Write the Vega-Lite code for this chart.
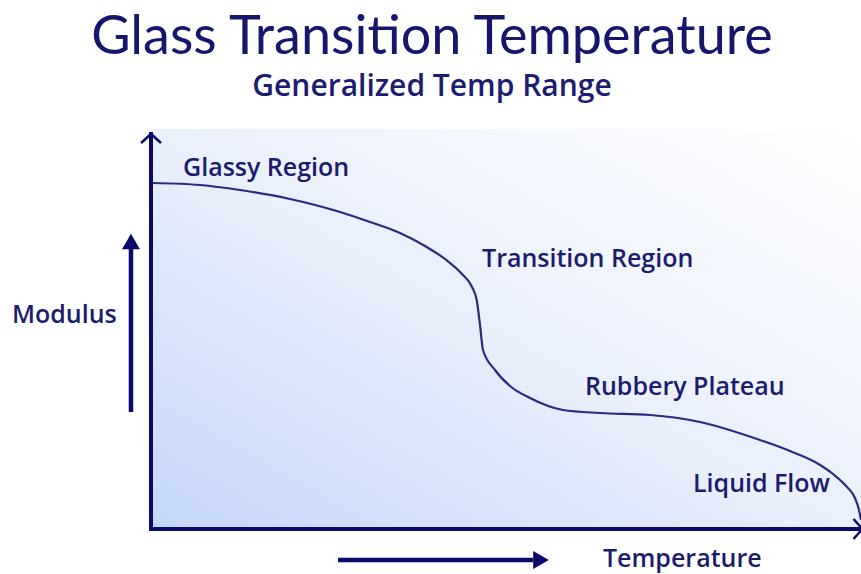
{
  "$schema": "https://vega.github.io/schema/vega-lite/v6.json",
  "width": 710,
  "height": 400,
  "autosize": "none",
  "padding": {"left": 151, "top": 129, "right": 0, "bottom": 45},
  "background": "#ffffff",
  "title": {
    "text": "Glass Transition Temperature",
    "subtitle": "Generalized Temp Range",
    "anchor": "middle",
    "frame": "group",
    "dx": -74,
    "offset": 27,
    "font": "Lato",
    "fontSize": 54,
    "fontWeight": "normal",
    "color": "#16166c",
    "subtitleFont": "Open Sans",
    "subtitleFontSize": 30,
    "subtitleFontWeight": 600,
    "subtitleColor": "#1c1c70",
    "subtitlePadding": 7
  },
  "config": {"view": {"stroke": null}, "axis": {"disable": true}},
  "datasets": {
    "curve": [
      {"Temperature": 0.28, "Modulus": 86.5},
      {"Temperature": 6.9, "Modulus": 86.0},
      {"Temperature": 12.54, "Modulus": 84.75},
      {"Temperature": 19.58, "Modulus": 82.5},
      {"Temperature": 26.62, "Modulus": 79.25},
      {"Temperature": 30.85, "Modulus": 76.75},
      {"Temperature": 35.07, "Modulus": 74.0},
      {"Temperature": 38.59, "Modulus": 70.75},
      {"Temperature": 41.41, "Modulus": 67.5},
      {"Temperature": 43.8, "Modulus": 63.75},
      {"Temperature": 45.21, "Modulus": 60.5},
      {"Temperature": 45.9, "Modulus": 57.0},
      {"Temperature": 46.34, "Modulus": 51.0},
      {"Temperature": 46.76, "Modulus": 44.75},
      {"Temperature": 48.45, "Modulus": 39.75},
      {"Temperature": 50.56, "Modulus": 35.75},
      {"Temperature": 53.38, "Modulus": 32.75},
      {"Temperature": 58.03, "Modulus": 29.75},
      {"Temperature": 63.24, "Modulus": 29.0},
      {"Temperature": 70.28, "Modulus": 28.5},
      {"Temperature": 77.32, "Modulus": 26.75},
      {"Temperature": 85.77, "Modulus": 22.25},
      {"Temperature": 90.0, "Modulus": 19.5},
      {"Temperature": 93.52, "Modulus": 16.75},
      {"Temperature": 96.06, "Modulus": 13.75},
      {"Temperature": 98.03, "Modulus": 10.5},
      {"Temperature": 99.15, "Modulus": 7.75},
      {"Temperature": 99.72, "Modulus": 4.75},
      {"Temperature": 100.0, "Modulus": 2.25}
    ],
    "labels": [
      {"label": "Glassy Region", "Temperature": 4.51, "Modulus": 88.25},
      {"label": "Transition Region", "Temperature": 46.62, "Modulus": 65.5},
      {"label": "Rubbery Plateau", "Temperature": 61.13, "Modulus": 33.5},
      {"label": "Liquid Flow", "Temperature": 76.34, "Modulus": 9.25},
      {"label": "Modulus", "Temperature": -19.58, "Modulus": 51.5},
      {"label": "Temperature", "Temperature": 63.66, "Modulus": -9.5}
    ],
    "axes": [
      {"Temperature": 0, "Modulus": 0, "T2": 0, "M2": 98.75},
      {"Temperature": 0, "Modulus": 0, "T2": 100, "M2": 0}
    ],
    "arrows": [
      {"Temperature": -2.82, "Modulus": 29.25, "T2": -2.82, "M2": 70.25},
      {"Temperature": 26.34, "Modulus": -7.75, "T2": 53.8, "M2": -7.75}
    ]
  },
  "layer": [
    {
      "data": {"values": [{"Temperature": 0, "Modulus": 0, "T2": 100, "M2": 100}]},
      "mark": {
        "type": "rect",
        "color": {
          "gradient": "linear", "x1": 0, "y1": 1, "x2": 1, "y2": 0,
          "stops": [
            {"offset": 0, "color": "#c5d6f8"},
            {"offset": 0.5, "color": "#eaf0fc"},
            {"offset": 1, "color": "#ffffff"}
          ]
        }
      },
      "encoding": {
        "x": {"field": "Temperature", "type": "quantitative", "scale": {"domain": [0, 100], "nice": false, "zero": false}, "axis": null},
        "x2": {"field": "T2"},
        "y": {"field": "Modulus", "type": "quantitative", "scale": {"domain": [0, 100], "nice": false, "zero": false}, "axis": null},
        "y2": {"field": "M2"}
      }
    },
    {
      "data": {"name": "axes"},
      "mark": {"type": "rule", "color": "#0a0a6a", "strokeWidth": 4, "strokeCap": "square"},
      "encoding": {
        "x": {"field": "Temperature", "type": "quantitative", "axis": null},
        "x2": {"field": "T2"},
        "y": {"field": "Modulus", "type": "quantitative", "axis": null},
        "y2": {"field": "M2"}
      }
    },
    {
      "data": {"values": [{"Temperature": 0, "Modulus": 97.625}]},
      "mark": {"type": "point", "shape": "M-1,0.45L0,-0.45L1,0.45", "filled": false, "size": 400, "strokeWidth": 2.5, "color": "#0a0a6a", "opacity": 1},
      "encoding": {
        "x": {"field": "Temperature", "type": "quantitative", "axis": null},
        "y": {"field": "Modulus", "type": "quantitative", "axis": null}
      }
    },
    {
      "data": {"values": [{"Temperature": 99.58, "Modulus": 0}]},
      "mark": {"type": "point", "shape": "M-0.45,-1L0.45,0L-0.45,1", "filled": false, "size": 400, "strokeWidth": 2.5, "color": "#0a0a6a", "opacity": 1},
      "encoding": {
        "x": {"field": "Temperature", "type": "quantitative", "axis": null},
        "y": {"field": "Modulus", "type": "quantitative", "axis": null}
      }
    },
    {
      "data": {"name": "arrows"},
      "mark": {"type": "rule", "color": "#0a0a6a", "strokeWidth": 4.5},
      "encoding": {
        "x": {"field": "Temperature", "type": "quantitative", "axis": null},
        "x2": {"field": "T2"},
        "y": {"field": "Modulus", "type": "quantitative", "axis": null},
        "y2": {"field": "M2"}
      }
    },
    {
      "data": {"values": [{"Temperature": -2.82, "Modulus": 71.875}]},
      "mark": {"type": "point", "shape": "triangle-up", "filled": true, "size": 324, "color": "#0a0a6a", "opacity": 1},
      "encoding": {
        "x": {"field": "Temperature", "type": "quantitative", "axis": null},
        "y": {"field": "Modulus", "type": "quantitative", "axis": null}
      }
    },
    {
      "data": {"values": [{"Temperature": 54.93, "Modulus": -7.75}]},
      "mark": {"type": "point", "shape": "triangle-right", "filled": true, "size": 324, "color": "#0a0a6a", "opacity": 1},
      "encoding": {
        "x": {"field": "Temperature", "type": "quantitative", "axis": null},
        "y": {"field": "Modulus", "type": "quantitative", "axis": null}
      }
    },
    {
      "data": {"name": "curve"},
      "mark": {"type": "line", "interpolate": "monotone", "color": "#2a2a80", "strokeWidth": 2.2},
      "encoding": {
        "x": {"field": "Temperature", "type": "quantitative", "axis": null},
        "y": {"field": "Modulus", "type": "quantitative", "axis": null}
      }
    },
    {
      "data": {"name": "labels"},
      "mark": {"type": "text", "align": "left", "baseline": "alphabetic", "font": "Open Sans", "fontWeight": 600, "fontSize": 25, "color": "#1c1c6e"},
      "encoding": {
        "x": {"field": "Temperature", "type": "quantitative", "axis": null},
        "y": {"field": "Modulus", "type": "quantitative", "axis": null},
        "text": {"field": "label", "type": "nominal"}
      }
    }
  ]
}
